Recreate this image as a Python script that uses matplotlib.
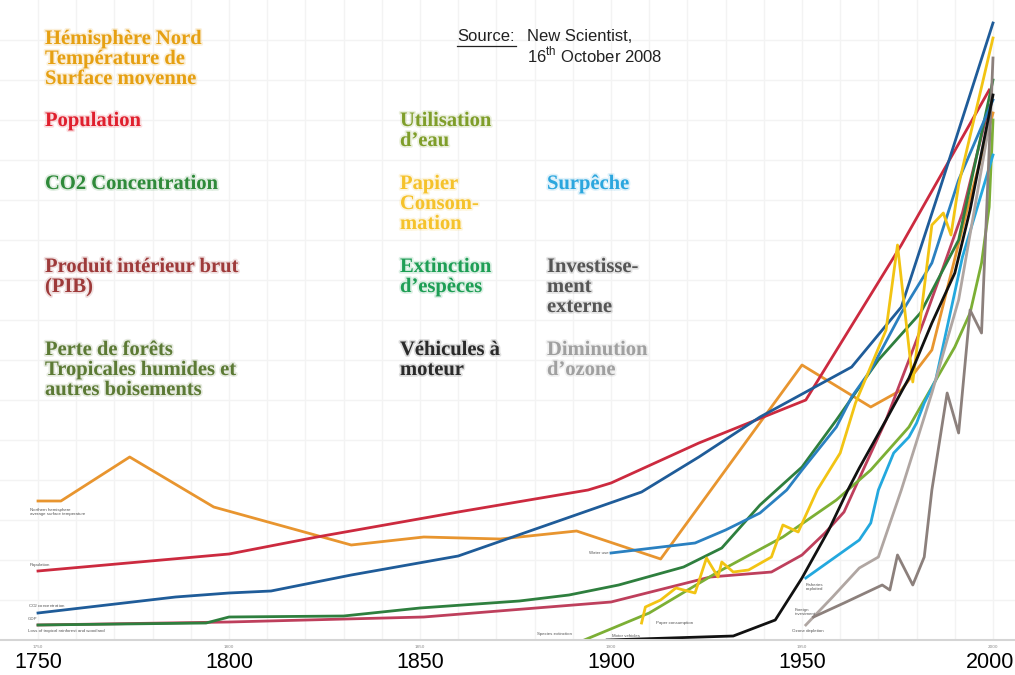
import matplotlib.pyplot as plt
import matplotlib.patheffects as pe
from matplotlib.lines import Line2D

plt.rcParams['mathtext.fontset'] = 'custom'
plt.rcParams['mathtext.rm'] = 'Liberation Sans'

# valeurs (indice arbitraire, 0 = axe du bas)
temp_ans = [1750, 1756, 1774, 1796, 1832, 1851, 1871, 1891, 1913, 1950, 1968, 1976, 1984, 1993, 2000]
temp_val = [139, 139, 183, 133, 95, 103, 101, 109, 81, 275, 233, 250, 290, 427, 527]

pop_ans = [1750, 1800, 1823, 1860, 1894, 1900, 1923, 1951, 1976, 1999]
pop_val = [69, 86, 103, 128, 150, 157, 197, 240, 395, 550]

co2_ans = [1750, 1786, 1800, 1811, 1832, 1860, 1908, 1923, 1939, 1963, 1976, 1986, 2000]
co2_val = [27, 43, 47, 49, 65, 84, 148, 183, 223, 273, 333, 450, 617]

pib_ans = [1750, 1800, 1851, 1900, 1926, 1942, 1950, 1956, 1961, 1966, 1972, 1976, 1982, 1987, 1992, 1999]
pib_val = [15, 18, 23, 38, 63, 68, 85, 107, 128, 170, 220, 260, 320, 373, 427, 535]

foret_ans = [1750, 1794, 1800, 1830, 1850, 1876, 1889, 1902, 1919, 1929, 1939, 1950, 1959, 1970, 1981, 1991, 2000]
foret_val = [15, 17, 23, 24, 32, 39, 45, 55, 73, 92, 135, 173, 220, 280, 327, 400, 560]

eau_ans = [1900, 1922, 1930, 1939, 1946, 1950, 1959, 1963, 1968, 1976, 1984, 1991, 2000]
eau_val = [87, 97, 110, 127, 150, 170, 213, 243, 270, 327, 377, 460, 540]

papier_ans = [1908, 1909, 1913, 1917, 1922, 1925, 1928, 1929, 1932, 1936, 1942, 1945, 1949, 1954,
              1960, 1964, 1972, 1975, 1979, 1984, 1987, 1989, 1991, 2000]
papier_val = [17, 33, 40, 52, 47, 82, 63, 78, 68, 70, 83, 115, 108, 150,
              187, 237, 310, 395, 258, 415, 427, 405, 455, 602]

especes_ans = [1893, 1910, 1928, 1945, 1959, 1968, 1978, 1984, 1990, 1994, 1997, 1999, 2000]
especes_val = [0, 27, 68, 103, 140, 170, 213, 253, 293, 327, 377, 433, 520]

vehic_ans = [1899, 1932, 1943, 1950, 1957, 1962, 1965, 1972, 1978, 1984, 1990, 1994, 2000]
vehic_val = [0, 4, 20, 62, 110, 150, 172, 220, 262, 317, 367, 430, 545]

peche_ans = [1951, 1965, 1968, 1970, 1974, 1978, 1980, 1982, 1985, 1992, 2000]
peche_val = [62, 100, 117, 150, 187, 203, 217, 237, 260, 383, 485]

invest_ans = [1953, 1961, 1971, 1973, 1975, 1979, 1982, 1984, 1988, 1991, 1994, 1997, 2000]
invest_val = [23, 37, 55, 50, 85, 55, 83, 150, 247, 207, 330, 307, 582]

ozone_ans = [1951, 1958, 1965, 1970, 1976, 1984, 1991, 1999]
ozone_val = [15, 43, 72, 83, 150, 247, 340, 515]

annees_axe = [1750, 1800, 1850, 1900, 1950, 2000]

fig = plt.figure(figsize=(10.15, 6.75), dpi=100)
ax = fig.add_axes([0, 35 / 675, 1, 640 / 675])
ax.set_xlim(1740.05, 2005.76)
ax.set_ylim(0, 640)

lw = 2.0
ax.plot(temp_ans, temp_val, color='#E8952F', lw=lw)
ax.plot(pop_ans, pop_val, color='#CC2A3F', lw=lw)
ax.plot(co2_ans, co2_val, color='#1F5C99', lw=lw)
ax.plot(pib_ans, pib_val, color='#BE3F5C', lw=lw)
ax.plot(foret_ans, foret_val, color='#2E7F3E', lw=lw)
ax.plot(eau_ans, eau_val, color='#2A80C0', lw=lw)
ax.plot(especes_ans, especes_val, color='#7CAF35', lw=lw)
ax.plot(papier_ans, papier_val, color='#F2C413', lw=lw)
ax.plot(peche_ans, peche_val, color='#23A8DE', lw=lw)
ax.plot(ozone_ans, ozone_val, color='#B0A6A2', lw=lw)
ax.plot(invest_ans, invest_val, color='#8C807C', lw=lw)
ax.plot(vehic_ans, vehic_val, color='#111111', lw=lw)

ax.set_xticks(annees_axe, labels=[])
ax.set_xticks(range(1750, 2001, 10), minor=True)
ax.set_yticks(range(40, 640, 40))
ax.grid(True, which='both', color='#f3f3f3', lw=1)
ax.set_axisbelow(True)
ax.tick_params(axis='x', which='both', length=0)
ax.tick_params(axis='y', left=False, labelleft=False)
for s in ['top', 'right', 'left']:
    ax.spines[s].set_visible(False)
ax.spines['bottom'].set_color('#d5d5d5')
ax.spines['bottom'].set_linewidth(1.5)

# annees en gros sous l'axe (la derniere un peu rentree pour rester dans l'image)
for a in annees_axe:
    xa = min(a, 1999.2)
    ax.text(xa, -22, str(a), fontsize=15.5, family='Liberation Sans', color='black',
            ha='center', va='center', clip_on=False)
    ax.text(a, -5, str(a), fontsize=3, color='#888888', ha='center', va='top', clip_on=False)


def px(x, y, s, **kw):
    fig.text(x / 1015, 1 - y / 675, s, **kw)


def titre(x, y, s, c):
    px(x, y, s, color=c, fontsize=14.8, fontweight='bold', family='Liberation Serif',
       va='top', linespacing=1.0,
       path_effects=[pe.withStroke(linewidth=2.5, foreground=c, alpha=0.15)])


titre(45, 29, 'Hémisphère Nord\nTempérature de\nSurface movenne', '#E6A012')
titre(45, 111, 'Population', '#E0202E')
titre(45, 174, 'CO2 Concentration', '#2F8A3A')
titre(45, 257, 'Produit intérieur brut\n(PIB)', '#9E3A3A')
titre(45, 340, 'Perte de forêts\nTropicales humides et\nautres boisements', '#5C7A35')
titre(400, 111, 'Utilisation\nd\u2019eau', '#7F9E2A')
titre(400, 174, 'Papier\nConsom-\nmation', '#F5C22B')
titre(400, 257, 'Extinction\nd\u2019espèces', '#1E9E55')
titre(400, 340, 'Véhicules à\nmoteur', '#2A2A2A')
titre(547, 174, 'Surpêche', '#2BA6DE')
titre(547, 257, 'Investisse-\nment\nexterne', '#555555')
titre(547, 340, 'Diminution\nd\u2019ozone', '#A0A0A0')

px(457, 29, 'Source:', fontsize=12, family='Liberation Sans', color='#222222', va='top')
fig.add_artist(Line2D([457 / 1015, 516 / 1015], [1 - 46 / 675, 1 - 46 / 675],
                      color='#222222', lw=0.9))
px(527, 29, 'New Scientist,\n16$^{\\mathrm{th}}$ October 2008', fontsize=12,
   family='Liberation Sans', color='#222222', va='top', linespacing=1.05)

# petites legendes des courbes
petit = dict(fontsize=3.2, color='#555555', family='Liberation Sans', va='center')
px(30, 512, 'Northern hemisphere\naverage surface temperature', **petit)
px(30, 565, 'Population', **petit)
px(28, 606, 'CO$_2$ concentration', **petit)
px(28, 619, 'GDP', **petit)
px(28, 631, 'Loss of tropical rainforest and woodland', **petit)
px(589, 553, 'Water use', **petit)
px(537, 634, 'Species extinction', **petit)
px(612, 636, 'Motor vehicles', **petit)
px(656, 623, 'Paper consumption', **petit)
px(806, 587, 'Fisheries\nexploited', **petit)
px(795, 612, 'Foreign\ninvestment', **petit)
px(792, 631, 'Ozone depletion', **petit)

fig.savefig('out.png', dpi=100, facecolor='white')
